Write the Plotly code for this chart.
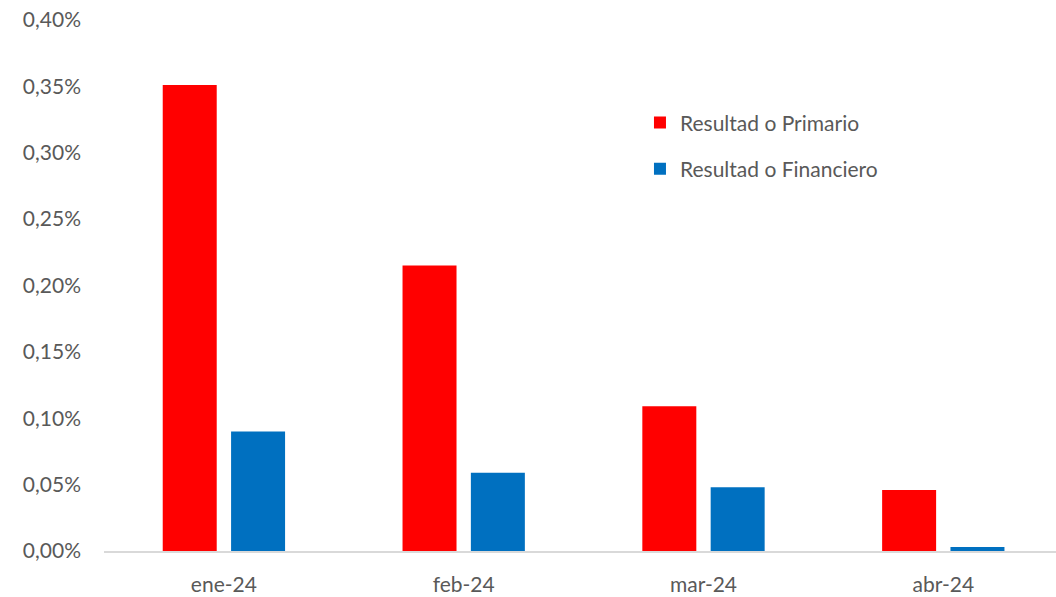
import plotly.graph_objects as go

meses = ["ene-24", "feb-24", "mar-24", "abr-24"]
resultado_primario = [0.351, 0.215, 0.109, 0.046]
resultado_financiero = [0.090, 0.059, 0.048, 0.003]
y_ticks = [0.00, 0.05, 0.10, 0.15, 0.20, 0.25, 0.30, 0.35, 0.40]
y_tick_text = [f"{v:.2f}".replace(".", ",") + "%" for v in y_ticks]

FONT = "Lato, 'Open Sans', sans-serif"
GRIS = "#595959"

fig = go.Figure()
fig.add_trace(go.Bar(x=meses, y=resultado_primario, name="Resultad o Primario",
                     legendgroup="primario",
                     marker=dict(color="#ff0000", line=dict(width=0))))
fig.add_trace(go.Bar(x=meses, y=resultado_financiero, name="Resultad o Financiero",
                     legendgroup="financiero",
                     marker=dict(color="#0070c0", line=dict(width=0))))

fig.update_layout(
    width=1056, height=597,
    margin=dict(l=104, r=0, t=20, b=46),
    paper_bgcolor="white", plot_bgcolor="white",
    barmode="group", bargap=0.43, bargroupgap=0.21,
    font=dict(family=FONT, size=21, color=GRIS),
    legend=dict(x=0.563, y=0.845, xanchor="left", yanchor="top",
                font=dict(family=FONT, size=21, color=GRIS),
                traceorder="grouped", tracegroupgap=16,
                itemsizing="constant", bgcolor="rgba(0,0,0,0)"),
    showlegend=True,
)
fig.update_xaxes(type="category", range=[-0.5, 3.47], showgrid=False,
                 showline=True, linecolor="#d9d9d9", linewidth=2,
                 ticks="", ticklabelstandoff=14,
                 tickfont=dict(family=FONT, size=21, color=GRIS))
fig.update_yaxes(range=[0, 0.40], tickmode="array", tickvals=y_ticks, ticktext=y_tick_text,
                 showgrid=False, zeroline=False, showline=False, ticks="",
                 ticklabelstandoff=22,
                 tickfont=dict(family=FONT, size=21, color=GRIS))

fig.write_html("out.html")
